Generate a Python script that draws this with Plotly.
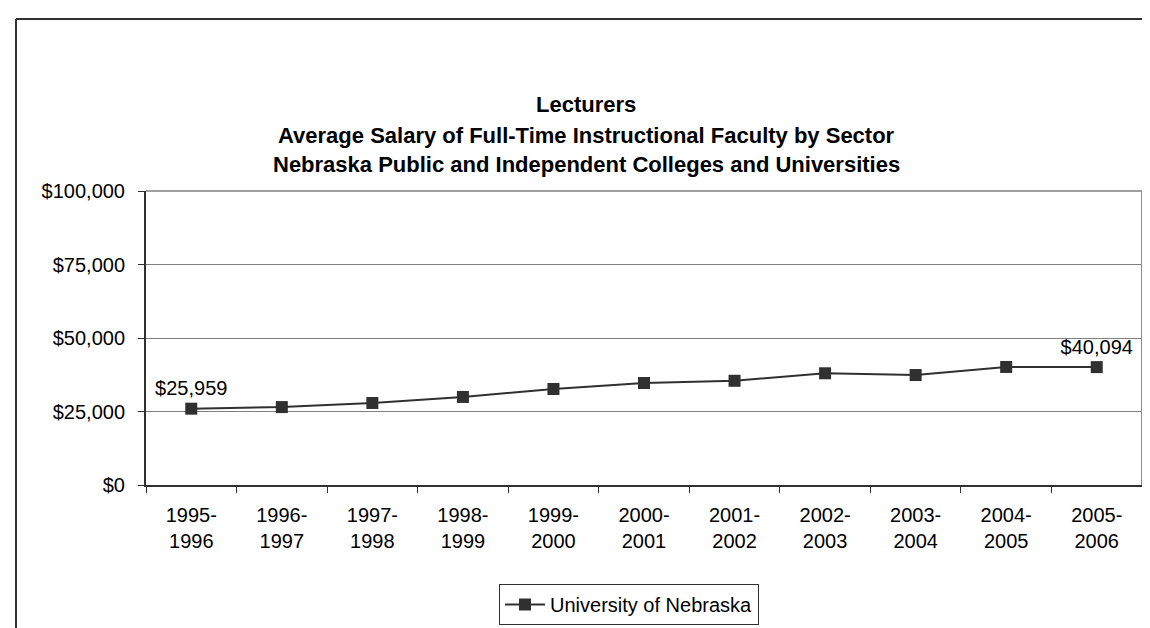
import plotly.graph_objects as go

# academic years and average lecturer salary, University of Nebraska
anos = ['1995-<br>1996', '1996-<br>1997', '1997-<br>1998', '1998-<br>1999', '1999-<br>2000',
        '2000-<br>2001', '2001-<br>2002', '2002-<br>2003', '2003-<br>2004', '2004-<br>2005',
        '2005-<br>2006']
salarios = [25959, 26500, 27900, 29950, 32650, 34700, 35450, 38000, 37400, 40150, 40094]
rotulos = ['$25,959', '', '', '', '', '', '', '', '', '', '$40,094']
serie = 'University of Nebraska'
titulos = ['Lecturers',
           'Average Salary of Full-Time Instructional Faculty by Sector',
           'Nebraska Public and Independent Colleges and Universities']

W, H = 1150, 628
L, R, T, B = 138, 1134, 183, 477

def px_x(x):
    return (x - L) / (R - L)

def px_y(y):
    return (B - y) / (B - T)

fonte = dict(family='Liberation Sans, Arial, sans-serif', size=20, color='black')

fig = go.Figure()
fig.add_trace(go.Scatter(
    x=anos, y=salarios, name=serie, text=rotulos,
    mode='lines+markers+text', textposition='top center',
    textfont=fonte,
    line=dict(color='#303030', width=2),
    marker=dict(symbol='square', size=12, color='#303030'),
))

shapes = [
    # plot area frame (grey) on top and right
    dict(type='line', xref='paper', yref='paper', x0=0, x1=1, y0=1, y1=1,
         line=dict(color='#808080', width=1.5)),
    dict(type='line', xref='paper', yref='paper', x0=1, x1=1, y0=0, y1=1,
         line=dict(color='#8c8c8c', width=2)),
    # chart area border (cropped on right and bottom)
    dict(type='line', xref='paper', yref='paper', x0=px_x(8), x1=px_x(W + 10),
         y0=px_y(11), y1=px_y(11), line=dict(color='#303030', width=2)),
    dict(type='line', xref='paper', yref='paper', x0=px_x(8), x1=px_x(8),
         y0=px_y(11), y1=px_y(H + 10), line=dict(color='#303030', width=2)),
]

anots = []
for i, t in enumerate(titulos):
    anots.append(dict(text='<b>' + t + '</b>', xref='paper', yref='paper',
                      x=px_x(578), y=px_y(97 + 30 * i), showarrow=False,
                      xanchor='center', yanchor='middle',
                      font=dict(family='Liberation Sans, Arial, sans-serif', size=22, color='black')))

fig.update_layout(
    width=W, height=H,
    margin=dict(l=L, r=W - R, t=T, b=H - B, autoexpand=False),
    paper_bgcolor='white', plot_bgcolor='white',
    font=fonte,
    shapes=shapes,
    annotations=anots,
    showlegend=True,
    legend=dict(orientation='h', x=px_x(621), y=px_y(576), xanchor='center', yanchor='top',
                bordercolor='#303030', borderwidth=1, font=fonte, bgcolor='white',
                itemwidth=40),
    xaxis=dict(type='category', range=[-0.5, len(anos) - 0.5],
               showline=True, linecolor='#303030', linewidth=2,
               ticks='outside', tickson='boundaries', ticklen=6, tickcolor='#303030',
               showgrid=False, ticklabelstandoff=11, fixedrange=True),
    yaxis=dict(range=[0, 100000], dtick=25000, tickformat='$,.0f',
               showline=True, linecolor='#303030', linewidth=2,
               ticks='outside', ticklen=6, tickcolor='#303030',
               showgrid=True, gridcolor='#808080', gridwidth=1,
               zeroline=False, ticklabelstandoff=9, fixedrange=True),
)

fig.write_html('out.html')
